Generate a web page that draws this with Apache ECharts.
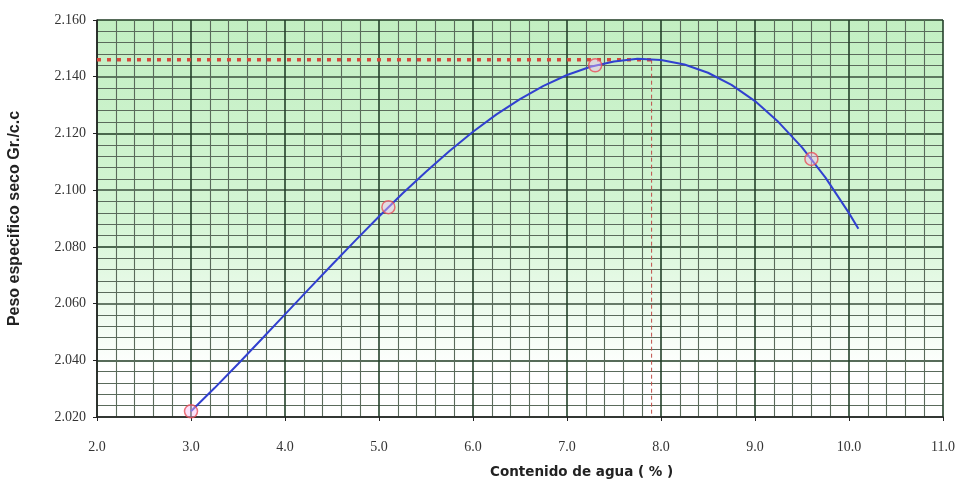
<!DOCTYPE html>
<html>
<head>
<meta charset="utf-8">
<script src="https://cdn.jsdelivr.net/npm/echarts@6/dist/echarts.min.js"></script>
<style>html,body{margin:0;padding:0;background:#fff}#c{width:958px;height:483px}</style>
</head>
<body>
<div id="c"></div>
<script>
// Measured points
const pointX = [3.0, 5.1, 7.3, 9.6];
const pointY = [2.022, 2.094, 2.144, 2.111];
// Fitted curve
const curveX = [3.0, 3.25, 3.5, 3.75, 4.0, 4.25, 4.5, 4.75, 5.0, 5.25, 5.5, 5.75, 6.0, 6.25, 6.5, 6.75, 7.0, 7.25, 7.5, 7.75, 8.0, 8.25, 8.5, 8.75, 9.0, 9.25, 9.5, 9.75, 10.0, 10.1];
const curveY = [2.0220, 2.0302, 2.0387, 2.0474, 2.0562, 2.0650, 2.0737, 2.0823, 2.0907, 2.0988, 2.1065, 2.1138, 2.1206, 2.1267, 2.1321, 2.1368, 2.1406, 2.1435, 2.1454, 2.1463, 2.1459, 2.1443, 2.1414, 2.1371, 2.1314, 2.1240, 2.1151, 2.1044, 2.0919, 2.0864];
// Optimum marker lines
const optX = [2.0, 7.9];
const optY = [2.146, 2.020];
// Axis settings
const xTicks = [2, 11, 1];
const yTicks = [2.02, 2.16, 0.02];
const xTitle = 'Contenido de agua ( % )';
const yTitle = 'Peso especifico seco Gr./c.c';

const chart = echarts.init(document.getElementById('c'));
const tickFont = {fontFamily: '"Liberation Serif", serif', fontSize: 14, color: '#333'};
chart.setOption({
  animation: false,
  grid: {
    left: 97, right: 15, top: 20, bottom: 66, show: true, borderWidth: 0,
    containLabel: false, outerBoundsMode: 'none',
    backgroundColor: new echarts.graphic.LinearGradient(0, 0, 0, 1, [
      {offset: 0, color: '#c2efc2'},
      {offset: 0.5, color: '#d4f5d4'},
      {offset: 0.72, color: '#ecfbec'},
      {offset: 0.88, color: '#ffffff'},
      {offset: 1, color: '#ffffff'}
    ])
  },
  xAxis: {
    type: 'value', min: xTicks[0], max: xTicks[1], interval: xTicks[2],
    axisLine: {show: true, lineStyle: {color: '#222', width: 1.5}},
    axisTick: {show: true, length: 4, lineStyle: {color: '#222'}},
    axisLabel: Object.assign({margin: 23, formatter: v => v.toFixed(1)}, tickFont),
    splitLine: {show: true, lineStyle: {color: '#24402a', width: 1.6}},
    minorTick: {show: false, splitNumber: 5},
    minorSplitLine: {show: true, lineStyle: {color: '#5a6a5b', width: 1.1}}
  },
  yAxis: {
    type: 'value', min: yTicks[0], max: yTicks[1], interval: yTicks[2],
    axisLine: {show: true, lineStyle: {color: '#222', width: 1.5}},
    axisTick: {show: true, length: 4, lineStyle: {color: '#222'}},
    axisLabel: Object.assign({margin: 11, formatter: v => v.toFixed(3)}, tickFont),
    splitLine: {show: true, lineStyle: {color: ['#3a4f3c', '#1e3a22'], width: 1.6}},
    minorTick: {show: false, splitNumber: 5},
    minorSplitLine: {show: true, lineStyle: {color: '#5a6a5b', width: 1.1}},
    name: yTitle, nameLocation: 'middle', nameGap: 74, nameRotate: 90,
    nameTextStyle: {fontFamily: '"Liberation Sans", Arial, sans-serif', fontWeight: 'bold', fontSize: 16, color: '#222'}
  },
  graphic: [{
    type: 'text', left: 490, top: 465,
    style: {text: xTitle, font: 'bold 13.5px "DejaVu Sans", sans-serif', fill: '#222'}
  }],
  series: [
    {
      type: 'line', data: [[optX[0], optY[0]], [optX[1], optY[0]]], symbol: 'none', z: 3,
      lineStyle: {color: '#d9483c', width: 3.5, type: [4, 6]}
    },
    {
      type: 'line', data: [[optX[1], optY[0]], [optX[1], optY[1]]], symbol: 'none', z: 3,
      lineStyle: {color: '#c0504a', width: 1, type: [4, 3]}
    },
    {
      type: 'line', data: curveX.map((x, i) => [x, curveY[i]]), smooth: false, symbol: 'none', z: 4,
      lineStyle: {color: '#3140d0', width: 2}
    },
    {
      type: 'scatter', data: pointX.map((x, i) => [x, pointY[i]]), symbol: 'circle', symbolSize: 13, z: 5,
      itemStyle: {color: 'rgba(245,190,245,0.55)', borderColor: '#e8505a', borderWidth: 1.5}
    }
  ]
});
</script>
</body>
</html>
